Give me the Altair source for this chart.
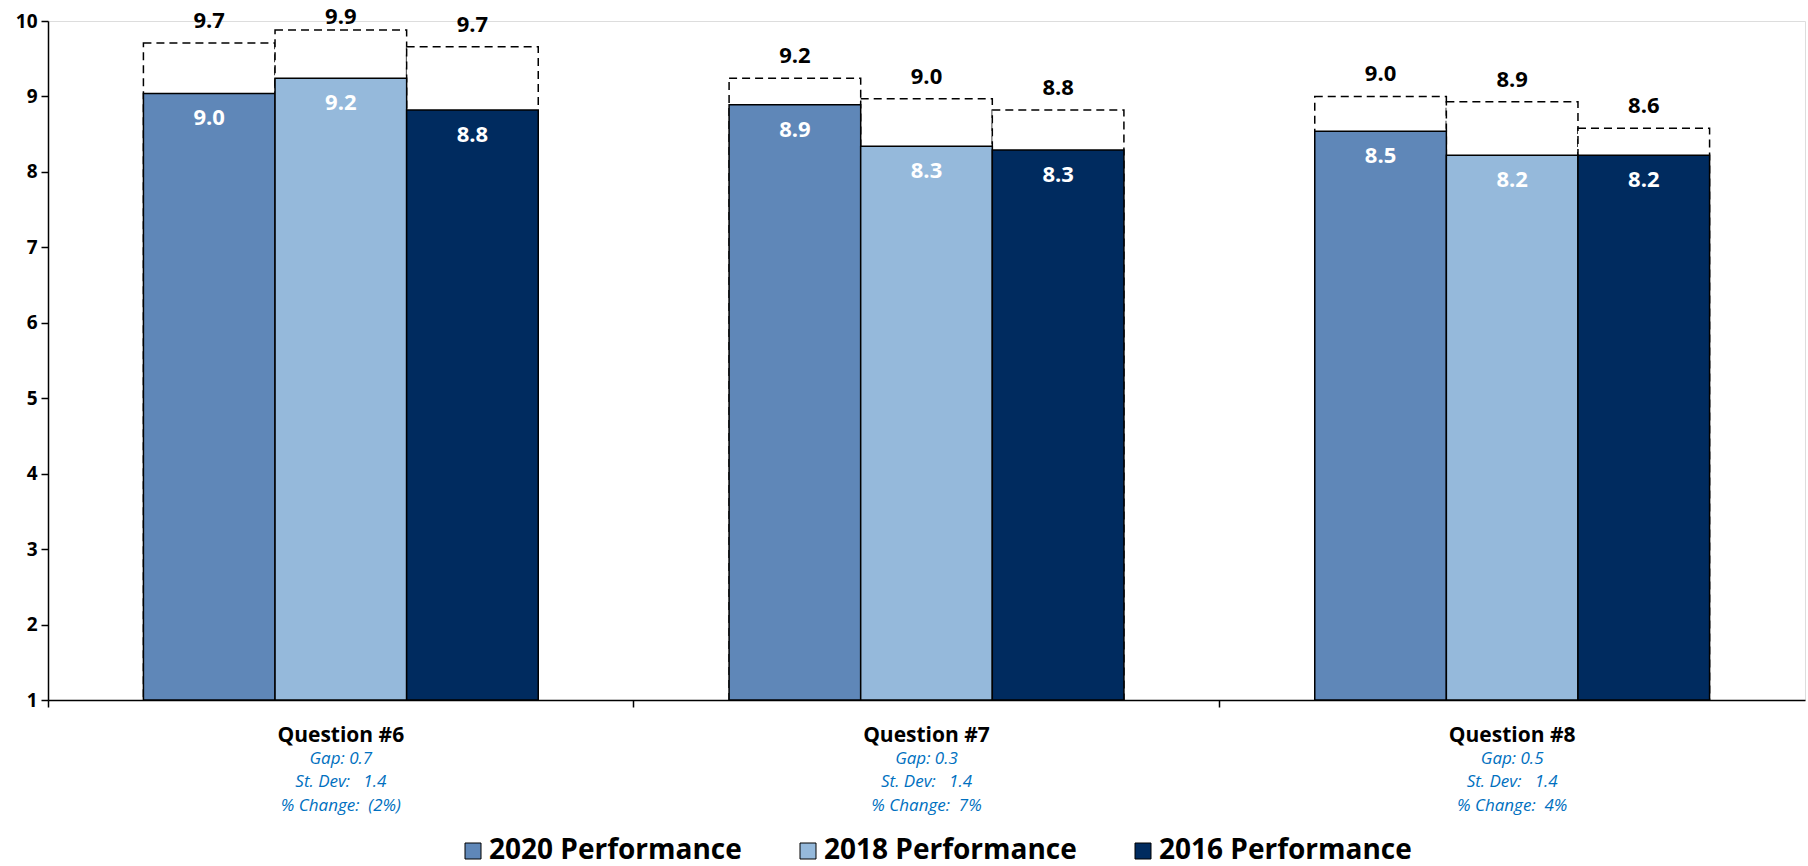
import altair as alt
import pandas as pd

questions = ["Question #6", "Question #7", "Question #8"]
series = ["2020 Performance", "2018 Performance", "2016 Performance"]
colors = ["#5F87B8", "#95B9DB", "#002B5F"]

# performance (solid bars) per series, per question
perf_2020 = [9.04, 8.89, 8.54]
perf_2018 = [9.24, 8.34, 8.22]
perf_2016 = [8.82, 8.29, 8.22]
# importance (dashed outline bars) per series, per question
imp_2020 = [9.71, 9.24, 9.00]
imp_2018 = [9.88, 8.97, 8.93]
imp_2016 = [9.66, 8.82, 8.58]

gap = ["0.7", "0.3", "0.5"]
st_dev = ["1.4", "1.4", "1.4"]
pct_change = ["(2%)", "7%", "4%"]

rows = []
for s, perf, imp in zip(series, [perf_2020, perf_2018, perf_2016], [imp_2020, imp_2018, imp_2016]):
    for q, p, i in zip(questions, perf, imp):
        rows.append({"question": q, "series": s, "perf": p, "imp": i, "base": 1})
df = pd.DataFrame(rows)

NB = "\u00a0"
qdf = pd.DataFrame({
    "question": questions,
    "l1": [f"Gap: {g}" for g in gap],
    "l2": [f"St. Dev:{NB*3}{s}" for s in st_dev],
    "l3": [f"% Change:{NB*2}{c}" for c in pct_change],
})

FONT = "Open Sans"
W, H = 1757, 679

x_enc = alt.X("question:N", sort=questions, title=None,
              scale=alt.Scale(paddingInner=0, paddingOuter=0),
              axis=alt.Axis(labels=False, bandPosition=0, tickSize=7, tickColor="black",
                            domainColor="black", domainWidth=1.5, tickWidth=1.5, grid=False))
xo_enc = alt.XOffset("series:N", sort=series,
                     scale=alt.Scale(paddingInner=0, paddingOuter=0.725))
y_scale = alt.Scale(domain=[1, 10], nice=False, zero=False)

base = alt.Chart(df)

dashed = base.mark_bar(fill="white", stroke="black", strokeDash=[8, 5], strokeWidth=1.5).encode(
    x=x_enc, xOffset=xo_enc,
    y=alt.Y("imp:Q", scale=y_scale, title=None,
            axis=alt.Axis(values=list(range(1, 11)), format="d", grid=False, tickSize=7,
                          tickColor="black", tickWidth=1.5, domainColor="black", domainWidth=1.5,
                          labelFont=FONT, labelFontSize=19, labelFontWeight="bold",
                          labelColor="black", labelPadding=4)),
    y2="base:Q",
)

solid = base.mark_bar(stroke="black", strokeWidth=1.5).encode(
    x=x_enc, xOffset=xo_enc,
    y=alt.Y("perf:Q", scale=y_scale),
    y2="base:Q",
    color=alt.Color("series:N", sort=series,
                    scale=alt.Scale(domain=series, range=colors),
                    legend=alt.Legend(orient="none", legendX=411, legendY=816,
                                      direction="horizontal", title=None,
                                      symbolType="square", symbolSize=256,
                                      symbolStrokeColor="black", symbolStrokeWidth=1,
                                      symbolOpacity=1,
                                      labelFont=FONT, labelFontSize=28, labelFontWeight="bold",
                                      labelColor="black", columnPadding=52, labelOffset=2,
                                      labelLimit=500)),
)

# label position clamped under the top of the plot area, as the reference does for 9.9
top_lbl = base.transform_calculate(lbl_y="min(datum.imp, 9.76)").mark_text(
    font=FONT, fontSize=22, fontWeight="bold", color="black",
    baseline="middle", dy=-22).encode(
    x=x_enc, xOffset=xo_enc,
    y=alt.Y("lbl_y:Q", scale=y_scale),
    text=alt.Text("imp:Q", format=".1f"),
)

in_lbl = base.mark_text(font=FONT, fontSize=22, fontWeight="bold", color="white",
                        baseline="middle", dy=25).encode(
    x=x_enc, xOffset=xo_enc,
    y=alt.Y("perf:Q", scale=y_scale),
    text=alt.Text("perf:Q", format=".1f"),
)

qbase = alt.Chart(qdf)
q_lbl = qbase.mark_text(font=FONT, fontSize=21, fontWeight="bold", color="black",
                        baseline="middle").encode(
    x=x_enc, y=alt.value(715), text="question:N")

stat_layers = []
for field, ypos in [("l1", 738), ("l2", 761), ("l3", 785)]:
    stat_layers.append(
        qbase.mark_text(font=FONT, fontSize=17, fontStyle="italic", color="#0070C0",
                        baseline="middle").encode(
            x=x_enc, y=alt.value(ypos), text=f"{field}:N")
    )

chart = alt.layer(dashed, solid, top_lbl, in_lbl, q_lbl, *stat_layers).properties(
    width=W, height=H,
    padding={"left": 48, "top": 21, "right": 3, "bottom": 166},
    autosize=alt.AutoSizeParams(type="none"),
).configure_view(stroke=None).configure(background="white")

chart.save("out.html", embed_options={"renderer": "svg", "actions": False})
